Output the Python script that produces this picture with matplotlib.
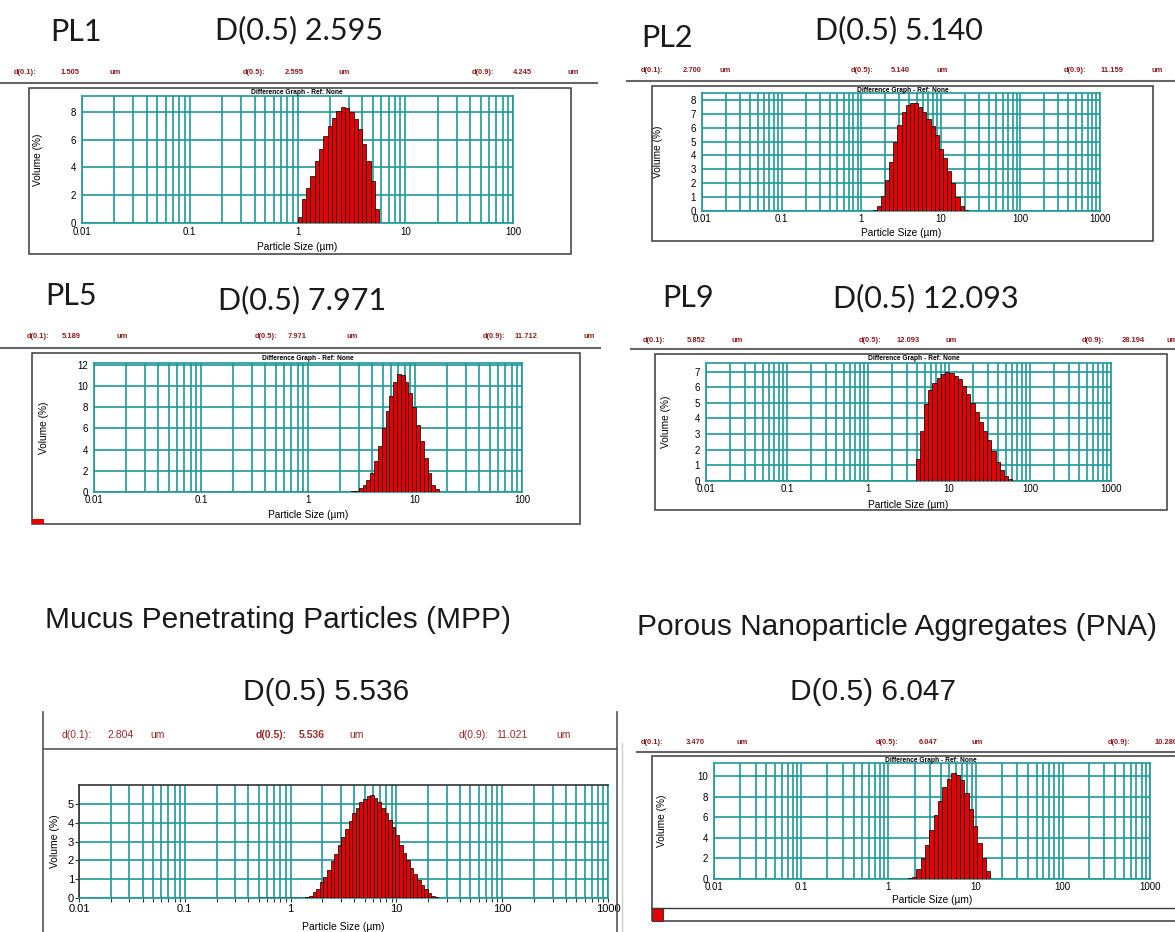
import numpy as np
import matplotlib.pyplot as plt
from matplotlib.lines import Line2D
from matplotlib.patches import Rectangle
from matplotlib.ticker import LogLocator, NullFormatter

plt.rcParams['font.family'] = ['Liberation Sans', 'DejaVu Sans']

# size distributions: first class edge (um), class width (log10 decades), volume % per class
pl1_start, pl1_step = 1.0, 0.04
pl1_vol = [0.43, 1.75, 2.5, 3.4, 4.46, 5.3, 6.3, 7.0, 7.6, 8.05, 8.35, 8.3, 8.0, 7.5,
           6.75, 5.7, 4.46, 3.0, 1.0]
pl1_d = ['1.505', '2.595', '4.245']

pl2_start, pl2_step = 1.39, 0.052
pl2_vol = [0.05, 0.35, 1.1, 2.2, 3.5, 5.0, 6.2, 7.1, 7.6, 7.8, 7.75, 7.5, 7.1, 6.6, 6.1,
           5.5, 4.5, 3.8, 2.9, 2.0, 1.0, 0.35, 0.05]
pl2_d = ['2.700', '5.140', '11.159']

pl5_start, pl5_step = 2.53, 0.0357
pl5_vol = [0.05, 0.1, 0.4, 0.7, 1.1, 1.8, 2.9, 4.3, 6.0, 7.6, 9.0, 10.4, 11.1, 11.0, 10.4,
           9.3, 8.0, 6.3, 4.8, 3.2, 1.8, 0.7, 0.25]
pl5_d = ['5.189', '7.971', '11.712']

pl9_start, pl9_step = 3.87, 0.052
pl9_vol = [1.4, 3.2, 4.9, 5.8, 6.25, 6.6, 6.85, 6.95, 6.9, 6.75, 6.55, 6.1, 5.55, 5.0,
           4.4, 3.8, 3.2, 2.6, 1.9, 1.2, 0.7, 0.3, 0.1]
pl9_d = ['5.852', '12.093', '28.194']

mpp_start, mpp_step = 1.38, 0.034
mpp_vol = [0.04, 0.12, 0.3, 0.5, 0.85, 1.1, 1.5, 1.95, 2.35, 2.8, 3.25, 3.65, 4.1, 4.5,
           4.8, 5.1, 5.25, 5.4, 5.45, 5.3, 5.1, 4.8, 4.5, 4.15, 3.75, 3.35, 2.8, 2.4,
           2.0, 1.6, 1.25, 0.97, 0.7, 0.48, 0.27, 0.12, 0.04]
mpp_d = ['2.804', '5.536', '11.021']

pna_start, pna_step = 1.66, 0.05
pna_vol = [0.05, 0.15, 1.0, 2.0, 3.3, 4.8, 6.2, 7.6, 8.9, 9.7, 10.25, 10.1, 9.6, 8.3,
           6.8, 5.1, 3.5, 2.0, 0.75]
pna_d = ['3.470', '6.047', '10.280']

size_ticks = [0.01, 0.1, 1, 10, 100, 1000]
size_labels = ['0.01', '0.1', '1', '10', '100', '1000']

W, H = 1175, 932
fig = plt.figure(figsize=(W / 100, H / 100), dpi=100)

TEAL = '#1f9898'
RED = '#e60000'
MAROON = '#8b1c1c'
FRAME = '#3a3a3a'


def fx(x):
    return x / W


def fy(y):
    return 1 - y / H


def line(x0, y0, x1, y1, color=FRAME, lw=1.0):
    fig.add_artist(Line2D([fx(x0), fx(x1)], [fy(y0), fy(y1)], color=color, lw=lw,
                          transform=fig.transFigure))


def box(x0, y0, x1, y1, **kw):
    fig.add_artist(Rectangle((fx(x0), fy(y1)), (x1 - x0) / W, (y1 - y0) / H,
                             transform=fig.transFigure, **kw))


def text(x, y, s, **kw):
    kw.setdefault('ha', 'center')
    kw.setdefault('va', 'center')
    fig.text(fx(x), fy(y), s, **kw)


def header(y, xs, d, size=5.4, weight='bold', color=MAROON, bold_mid=False):
    words = ['d(0.1):', d[0], 'um', 'd(0.5):', d[1], 'um', 'd(0.9):', d[2], 'um']
    for i, (x, w) in enumerate(zip(xs, words)):
        wt = 'bold' if (bold_mid and i in (3, 4)) else weight
        text(x, y, w, fontsize=size, fontweight=wt, color=color)


def histogram(rect, xmax, ymax, yticks, start, step, vol, ylab, xlab,
              xpad=2.5, ypad=4.5, fs=7, lfs=7.3):
    l, t, r, b = rect
    ax = fig.add_axes([fx(l), fy(b), (r - l) / W, (b - t) / H])
    edges = start * 10 ** (step * np.arange(len(vol) + 1))
    ax.bar(edges[:-1], vol, width=np.diff(edges), align='edge', color=RED,
           edgecolor='black', linewidth=0.5, zorder=3)
    ax.set_xscale('log')
    ax.set_xlim(0.01, xmax)
    ax.set_ylim(0, ymax)
    n = int(round(np.log10(xmax))) + 3
    ax.set_xticks(size_ticks[:n], size_labels[:n])
    ax.xaxis.set_minor_locator(LogLocator(base=10, subs=np.arange(2, 10), numticks=30))
    ax.xaxis.set_minor_formatter(NullFormatter())
    ax.set_yticks(yticks)
    ax.set_axisbelow(True)
    ax.grid(True, which='both', axis='x', color=TEAL, lw=1.2)
    ax.grid(True, which='major', axis='y', color=TEAL, lw=1.2)
    for s in ax.spines.values():
        s.set_color(TEAL)
        s.set_linewidth(1.2)
    ax.tick_params(which='both', length=0, labelsize=fs)
    ax.tick_params(axis='x', pad=xpad)
    ax.tick_params(axis='y', pad=ypad)
    ax.set_ylabel('Volume (%)', fontsize=lfs)
    ax.yaxis.label.set_va('center')
    ax.yaxis.set_label_coords((ylab - l) / (r - l), 0.5)
    ax.set_xlabel('Particle Size (µm)', fontsize=lfs)
    ax.xaxis.label.set_va('center')
    ax.xaxis.set_label_coords(0.5, (b - xlab) / (b - t))
    return ax


def diff_title(x, y):
    text(x, y, 'Difference Graph - Ref: None', fontsize=4.8, fontweight='bold')


big = dict(fontsize=22, family=['Lato', 'DejaVu Sans'], ha='left', color='#1a1a1a')
arial = dict(fontsize=21.5, ha='left', color='#1a1a1a')

# PL1
text(50, 32, 'PL1', **big)
text(215, 30, 'D(0.5) 2.595', **big)
header(72, [25, 70, 115, 254, 294, 344, 483, 522, 573], pl1_d)
line(0, 83, 597, 83, color='#666666', lw=1.5)
box(29, 88, 571, 254, fill=False, edgecolor=FRAME, lw=1.1)
diff_title(297, 92)
histogram((82, 96, 513, 223), 100, 9.15, [0, 2, 4, 6, 8], pl1_start, pl1_step, pl1_vol,
          38, 247, xpad=3)

# PL2
text(641, 38, 'PL2', **big)
text(815, 30, 'D(0.5) 5.140', **big)
header(70, [652, 692, 725, 862, 900, 942, 1075, 1112, 1157], pl2_d)
line(627, 81, 1175, 81, color='#666666', lw=1.5)
box(652, 86, 1153, 241, fill=False, edgecolor=FRAME, lw=1.1)
diff_title(903, 90)
histogram((702, 93, 1100, 211), 1000, 8.5, list(range(9)), pl2_start, pl2_step, pl2_vol,
          658, 233, xpad=2)

# PL5
text(45, 296, 'PL5', **big)
text(218, 300, 'D(0.5) 7.971', **big)
header(337, [38, 71, 122, 266, 297, 352, 494, 526, 589], pl5_d)
line(0, 348, 600, 348, color='#666666', lw=1.5)
box(32, 353, 580, 524, fill=False, edgecolor=FRAME, lw=1.1)
box(32, 519, 44, 524, facecolor=RED, edgecolor='none')
diff_title(308, 358)
histogram((94, 363, 522, 492), 100, 12.15, [0, 2, 4, 6, 8, 10, 12], pl5_start, pl5_step,
          pl5_vol, 44, 515, xpad=2.5)

# PL9
text(662, 298, 'PL9', **big)
text(833, 298, 'D(0.5) 12.093', **big)
header(340, [654, 696, 737, 870, 908, 951, 1093, 1133, 1172], pl9_d)
line(631, 349, 1175, 349, color='#666666', lw=1.5)
box(655, 354, 1167, 510, fill=False, edgecolor=FRAME, lw=1.1)
diff_title(914, 358)
histogram((706, 363, 1111, 481), 1000, 7.55, list(range(8)), pl9_start, pl9_step, pl9_vol,
          666, 505, xpad=2)

# MPP
text(45, 620, 'Mucus Penetrating Particles (MPP)', **arial)
text(243, 692, 'D(0.5) 5.536', **arial)
line(43, 712, 43, 932, color='#555555', lw=1.2)
line(617, 712, 617, 932, color='#555555', lw=1.2)
line(43, 749, 617, 749, color='#555555', lw=1.2)
header(735, [77, 120, 158, 271, 312, 357, 474, 512, 564], mpp_d, size=7.5,
       weight='normal', color='#9a2a2a', bold_mid=True)
ax = histogram((79, 785, 608, 898), 1000, 6.0, list(range(6)), mpp_start, mpp_step,
               mpp_vol, 55, 927, xpad=1.5, ypad=0.5, fs=8, lfs=7.5)
ax.tick_params(which='both', length=3, direction='out', color='#333333', width=0.8)
ax.spines['left'].set_color('#333333')
ax.spines['top'].set_color('#333333')
ax.hlines(0, 0.5, 25, color='black', lw=1.0, zorder=4)

# PNA (header runs past the right edge, last unit not shown)
text(637, 627, 'Porous Nanoparticle Aggregates (PNA)', **arial)
text(790, 692, 'D(0.5) 6.047', **arial)
line(622, 743, 622, 932, color='#cccccc', lw=1.0)
header(742, [652, 695, 742, 887, 928, 977, 1119, 1166], pna_d)
line(637, 752, 1175, 752, color='#666666', lw=1.5)
box(652, 756, 1185, 921, fill=False, edgecolor=FRAME, lw=1.1)
line(652, 908, 1175, 908, color=FRAME, lw=1.0)
box(652, 908, 663, 921, facecolor=RED, edgecolor=FRAME, lw=0.8)
diff_title(931, 760)
histogram((714, 763, 1150, 879), 1000, 11.25, [0, 2, 4, 6, 8, 10], pna_start, pna_step,
          pna_vol, 662, 900, xpad=2)

fig.savefig('out.png', dpi=100, facecolor='white')
